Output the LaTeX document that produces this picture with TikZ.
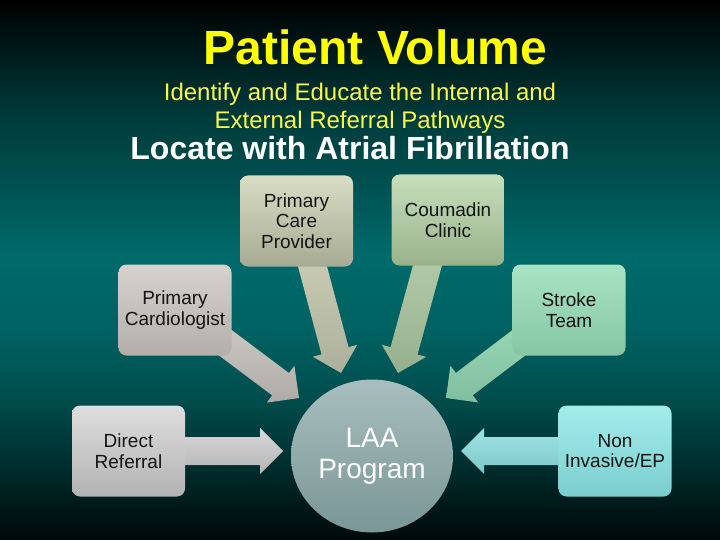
\documentclass[tikz,border=0pt]{standalone}
\usepackage{fontspec}
\setmainfont{Liberation Sans}
\usepackage{tikz}
\usetikzlibrary{calc, shapes.geometric}
\pgfdeclarelayer{bg}
\pgfdeclarelayer{arrows}
\pgfsetlayers{bg,arrows,main}

\definecolor{tealpk}{RGB}{0,106,106}
\definecolor{titleyellow}{RGB}{255,255,0}
\definecolor{subyellow}{RGB}{250,250,70}
\definecolor{pcpA}{RGB}{218,221,198}
\definecolor{pcpB}{RGB}{168,171,148}
\definecolor{couA}{RGB}{198,222,186}
\definecolor{couB}{RGB}{154,178,140}
\definecolor{pcardA}{RGB}{214,210,206}
\definecolor{pcardB}{RGB}{178,174,170}
\definecolor{strokeA}{RGB}{168,228,196}
\definecolor{strokeB}{RGB}{134,198,164}
\definecolor{directA}{RGB}{222,222,222}
\definecolor{directB}{RGB}{178,178,178}
\definecolor{noninvA}{RGB}{164,236,236}
\definecolor{noninvB}{RGB}{122,206,206}
\definecolor{laaA}{RGB}{168,190,190}
\definecolor{laaB}{RGB}{122,150,150}
\definecolor{arpcpA}{RGB}{204,206,180}
\definecolor{arpcpB}{RGB}{172,176,156}
\definecolor{arcouA}{RGB}{182,204,170}
\definecolor{arcouB}{RGB}{150,176,142}
\definecolor{arpcardA}{RGB}{204,200,196}
\definecolor{arpcardB}{RGB}{174,170,166}
\definecolor{arstrokeA}{RGB}{152,214,180}
\definecolor{arstrokeB}{RGB}{128,190,160}
\definecolor{ardirectA}{RGB}{216,216,216}
\definecolor{ardirectB}{RGB}{180,180,180}
\definecolor{arnoninvA}{RGB}{160,226,226}
\definecolor{arnoninvB}{RGB}{124,200,200}

% slide background, black - teal - black
\pgfdeclareverticalshading{bgteal}{100bp}{%
  color(0bp)=(tealpk!8!black); color(25bp)=(tealpk!8!black);
  color(27.78bp)=(tealpk!21!black); color(32.41bp)=(tealpk!45!black);
  color(37.96bp)=(tealpk!72!black); color(44.44bp)=(tealpk!92!black);
  color(51.39bp)=(tealpk); color(58.33bp)=(tealpk!75!black);
  color(63.89bp)=(tealpk!57!black); color(69.44bp)=(tealpk!28!black);
  color(75bp)=(black); color(100bp)=(black)}

\tikzset{
  box/.style={rounded corners=8pt, minimum width=113pt, minimum height=91pt,
    align=center, inner sep=2pt, text=black!92,
    font=\fontsize{19}{20.5}\selectfont},
}

\begin{document}
\begin{tikzpicture}[x=1pt, y=-1pt]
  \useasboundingbox (0,0) rectangle (720,540);
  \begin{pgfonlayer}{bg}
    \shade[shading=bgteal] (0,0) rectangle (720,540);
  \end{pgfonlayer}

  % titles
  \node[font=\fontsize{48}{56}\selectfont\bfseries, text=titleyellow, anchor=base] (title) at (375.5,65) {Patient Volume};
  \node[font=\fontsize{24}{28}\selectfont, text=subyellow, align=center] (sub) at (360,108) {Identify and Educate the Internal and\\External Referral Pathways};
  \node[font=\fontsize{32}{38}\selectfont\bfseries, text=white, anchor=base] (locate) at (350,160) {Locate with Atrial Fibrillation};

  % sources
  \node[box, top color=pcpA, bottom color=pcpB] (pcp) at (296.5,221) {Primary\\Care\\Provider};
  \node[box, top color=couA, bottom color=couB] (cou) at (448,220) {Coumadin\\Clinic};
  \node[box, top color=pcardA, bottom color=pcardB] (pcard) at (175,310) {Primary\\Cardiologist};
  \node[box, top color=strokeA, bottom color=strokeB] (stroke) at (569,310) {Stroke\\Team};
  \node[box, top color=directA, bottom color=directB] (direct) at (128.5,451) {Direct\\Referral};
  \node[box, top color=noninvA, bottom color=noninvB] (noninv) at (615,451) {Non\\Invasive/EP};

  % program
  \node[ellipse, minimum width=162pt, minimum height=153pt, inner sep=0pt,
    top color=laaA, bottom color=laaB, text=white, align=center,
    font=\fontsize{28}{31}\selectfont] (laa) at (372,456) {LAA\\Program};

  % arrow ends
  \coordinate (pcp-o) at ($(pcp.south)+(11.5,-17)$);
  \coordinate (cou-o) at ($(cou.south)+(-16,-17)$);
  \coordinate (pcard-o) at ($(pcard.south east)+(-16.5,-20.5)$);
  \coordinate (stroke-o) at ($(stroke.south west)+(16.5,-20.5)$);
  \coordinate (direct-o) at ($(direct.east)+(-10,0)$);
  \coordinate (noninv-o) at ($(noninv.west)+(10,0)$);
  \coordinate (pcp-t) at (341,373);
  \coordinate (cou-t) at (398,373);
  \coordinate (pcard-t) at (299,398);
  \coordinate (stroke-t) at (446,398);
  \coordinate (direct-t) at (283,451);
  \coordinate (noninv-t) at (461,451);

  \begin{pgfonlayer}{arrows}
    \foreach \src/\tip/\ca/\cb in {pcp-o/pcp-t/arpcpA/arpcpB, cou-o/cou-t/arcouA/arcouB,
        pcard-o/pcard-t/arpcardA/arpcardB, stroke-o/stroke-t/arstrokeA/arstrokeB,
        direct-o/direct-t/ardirectA/ardirectB, noninv-o/noninv-t/arnoninvA/arnoninvB}{
      \coordinate (hb) at ($(\tip)!23pt!(\src)$);
      \shade[top color=\ca, bottom color=\cb]
        ($(\src)!14pt!90:(\tip)$) -- ($(hb)!14pt!90:(\tip)$) -- ($(hb)!23pt!90:(\tip)$) -- (\tip)
        -- ($(hb)!23pt!-90:(\tip)$) -- ($(hb)!14pt!-90:(\tip)$) -- ($(\src)!14pt!-90:(\tip)$) -- cycle;
    }
  \end{pgfonlayer}
\end{tikzpicture}
\end{document}
